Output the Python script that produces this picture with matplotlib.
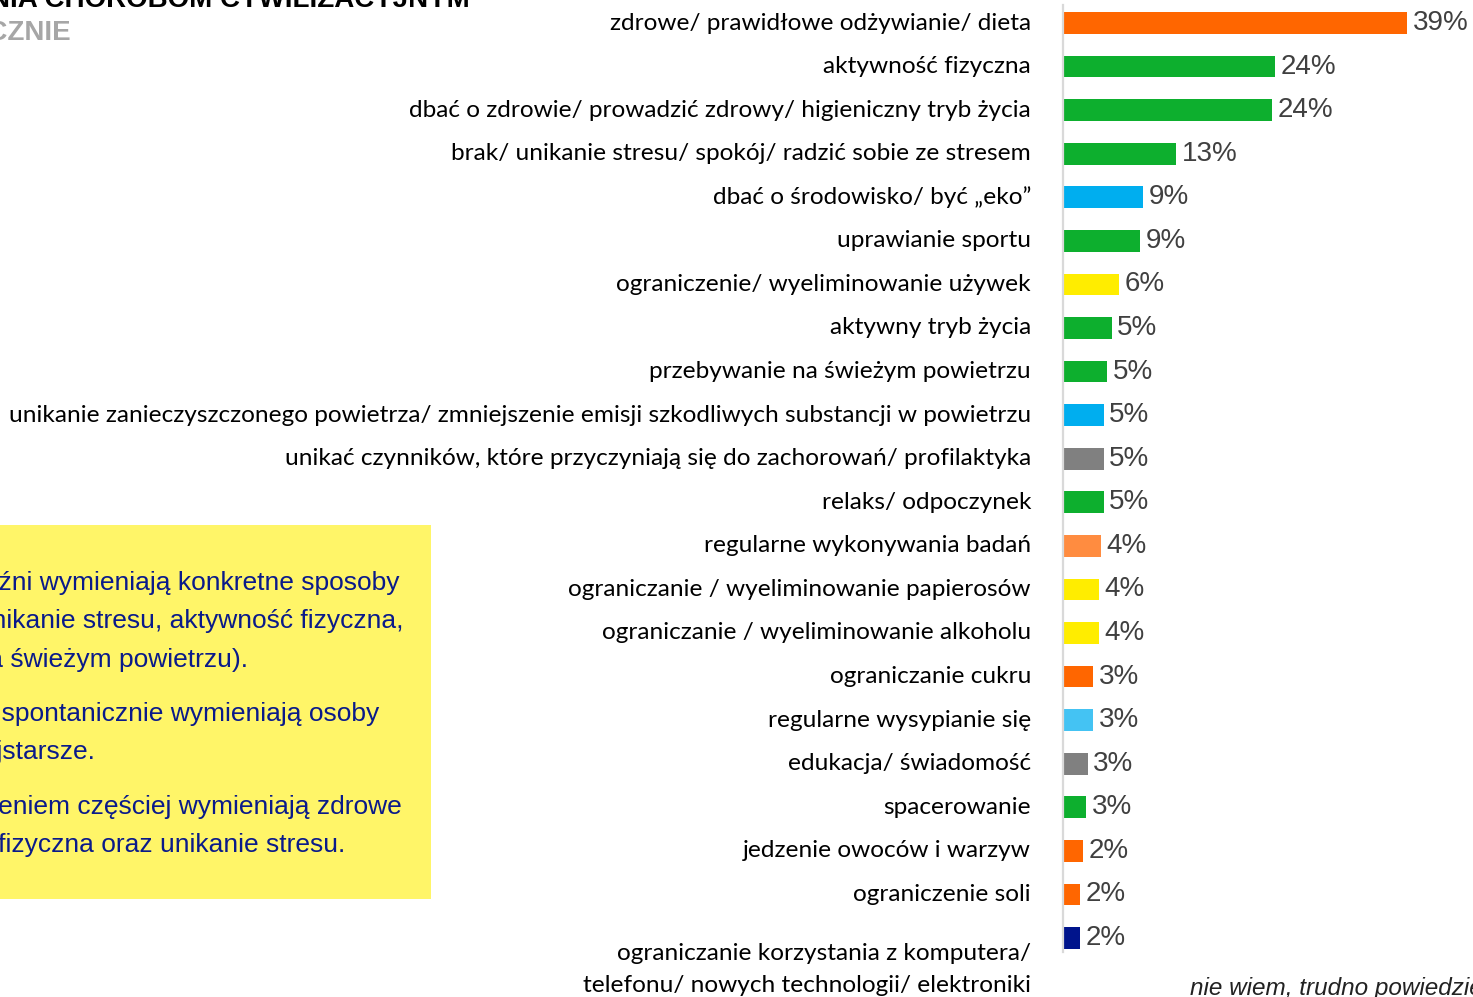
import matplotlib
matplotlib.use("Agg")
import matplotlib.pyplot as plt
import matplotlib.transforms as mtransforms

# --- Dane ---
categories = [
    "zdrowe/ prawidłowe odżywianie/ dieta",
    "aktywność fizyczna",
    "dbać o zdrowie/ prowadzić zdrowy/ higieniczny tryb życia",
    "brak/ unikanie stresu/ spokój/ radzić sobie ze stresem",
    "dbać o środowisko/ być „eko”",
    "uprawianie sportu",
    "ograniczenie/ wyeliminowanie używek",
    "aktywny tryb życia",
    "przebywanie na świeżym powietrzu",
    "unikanie zanieczyszczonego powietrza/ zmniejszenie emisji szkodliwych substancji w powietrzu",
    "unikać czynników, które przyczyniają się do zachorowań/ profilaktyka",
    "relaks/ odpoczynek",
    "regularne wykonywania badań",
    "ograniczanie / wyeliminowanie papierosów",
    "ograniczanie / wyeliminowanie alkoholu",
    "ograniczanie cukru",
    "regularne wysypianie się",
    "edukacja/ świadomość",
    "spacerowanie",
    "jedzenie owoców i warzyw",
    "ograniczenie soli",
    "ograniczanie korzystania z komputera/\ntelefonu/ nowych technologii/ elektroniki",
]
values = [39.0, 24.0, 23.7, 12.8, 9.1, 8.7, 6.4, 5.5, 5.0, 4.6, 4.6, 4.6,
          4.3, 4.1, 4.1, 3.4, 3.4, 2.8, 2.6, 2.3, 1.9, 1.9]
labels = ["39%", "24%", "24%", "13%", "9%", "9%", "6%", "5%", "5%", "5%", "5%", "5%",
          "4%", "4%", "4%", "3%", "3%", "3%", "3%", "2%", "2%", "2%"]
bar_colors = ["#ff6600", "#0daf2e", "#0daf2e", "#0daf2e", "#00aeef", "#0daf2e",
              "#ffed00", "#0daf2e", "#0daf2e", "#00aeef", "#808080", "#0daf2e",
              "#ff8c40", "#ffed00", "#ffed00", "#ff6600", "#44c3f3", "#808080",
              "#0daf2e", "#ff6600", "#ff6600", "#00148c"]

box_lines = [
    "Mężczyźni wymieniają konkretne sposoby",
    "(np. unikanie stresu, aktywność fizyczna,",
    "przebywanie na świeżym powietrzu).",
    "Rzadziej spontanicznie wymieniają osoby",
    "najstarsze.",
    "Osoby z wyższym wykształceniem częściej wymieniają zdrowe",
    "odżywianie, aktywność fizyczna oraz unikanie stresu.",
]
# prawe krawędzie linii (px) i linie bazowe (px od góry)
box_right = [399, 403, 248, 379, 95, 402, 345]
box_base = [590, 628, 667, 721, 759, 814, 852]

W, H = 1473, 997
fig = plt.figure(figsize=(W / 100, H / 100), dpi=100)
fig.patch.set_facecolor("white")

# --- Wykres słupkowy ---
px_per_unit = 8.82
x0 = 1063
row0, step = 23, 43.57
ax = fig.add_axes([x0 / W, 0, (W - x0) / W, 1])
ax.set_xlim(0, (W - x0) / px_per_unit)
ax.set_ylim((H - row0) / step, -row0 / step)
ypos = list(range(len(categories)))
ax.barh(ypos, values, height=0.5, color=bar_colors)
for y, v, lab in zip(ypos, values, labels):
    ax.annotate(lab, (v, y), xytext=(4, 0), textcoords="offset points",
                va="center", ha="left", fontsize=20, color="#404040",
                family="Liberation Sans")

trans = mtransforms.blended_transform_factory(fig.transFigure, ax.transData)
for y, cat in zip(ypos, categories):
    if "\n" in cat:
        ax.text(1031 / W, y + 0.72, cat, transform=trans, ha="right", va="center",
                fontsize=17.6, family="Lato", color="black", linespacing=1.65,
                multialignment="right")
    else:
        ax.text(1031 / W, y, cat, transform=trans, ha="right", va="center",
                fontsize=17.6, family="Lato", color="black")

ax.set_xticks([])
ax.set_yticks([])
for s in ("top", "right", "bottom"):
    ax.spines[s].set_visible(False)
ax.spines["left"].set_color("#d9d9d9")
ax.spines["left"].set_linewidth(1.6)
ax.spines["left"].set_bounds((5 - row0) / step, (952 - row0) / step)
ax.set_facecolor("none")

# --- Tytuł (przycięty) ---
fig.text(470 / W, 1 - 7 / H, "ZAPOBIEGANIA CHOROBOM CYWILIZACYJNYM", ha="right",
         va="baseline", fontsize=20, fontweight="bold", color="black",
         family="Liberation Sans")
fig.text(71 / W, 1 - 40 / H, "SPONTANICZNIE", ha="right", va="baseline",
         fontsize=20, fontweight="bold", color="#a6a6a6", family="Liberation Sans")

# --- Żółta ramka z komentarzem ---
fig.patches.append(plt.Rectangle((0, 1 - 899 / H), 431 / W, (899 - 525) / H,
                                 transform=fig.transFigure, facecolor="#fff568",
                                 edgecolor="none", zorder=0))
for line, xr, yb in zip(box_lines, box_right, box_base):
    fig.text(xr / W, 1 - yb / H, line, ha="right", va="baseline", fontsize=19,
             color="#0a1a8a", family="Liberation Sans")

fig.text(1190 / W, 1 - 995 / H, "nie wiem, trudno powiedzieć", ha="left",
         va="baseline", fontsize=17.5, style="italic", color="#222222",
         family="Liberation Sans")

fig.savefig("out.png", dpi=100)
